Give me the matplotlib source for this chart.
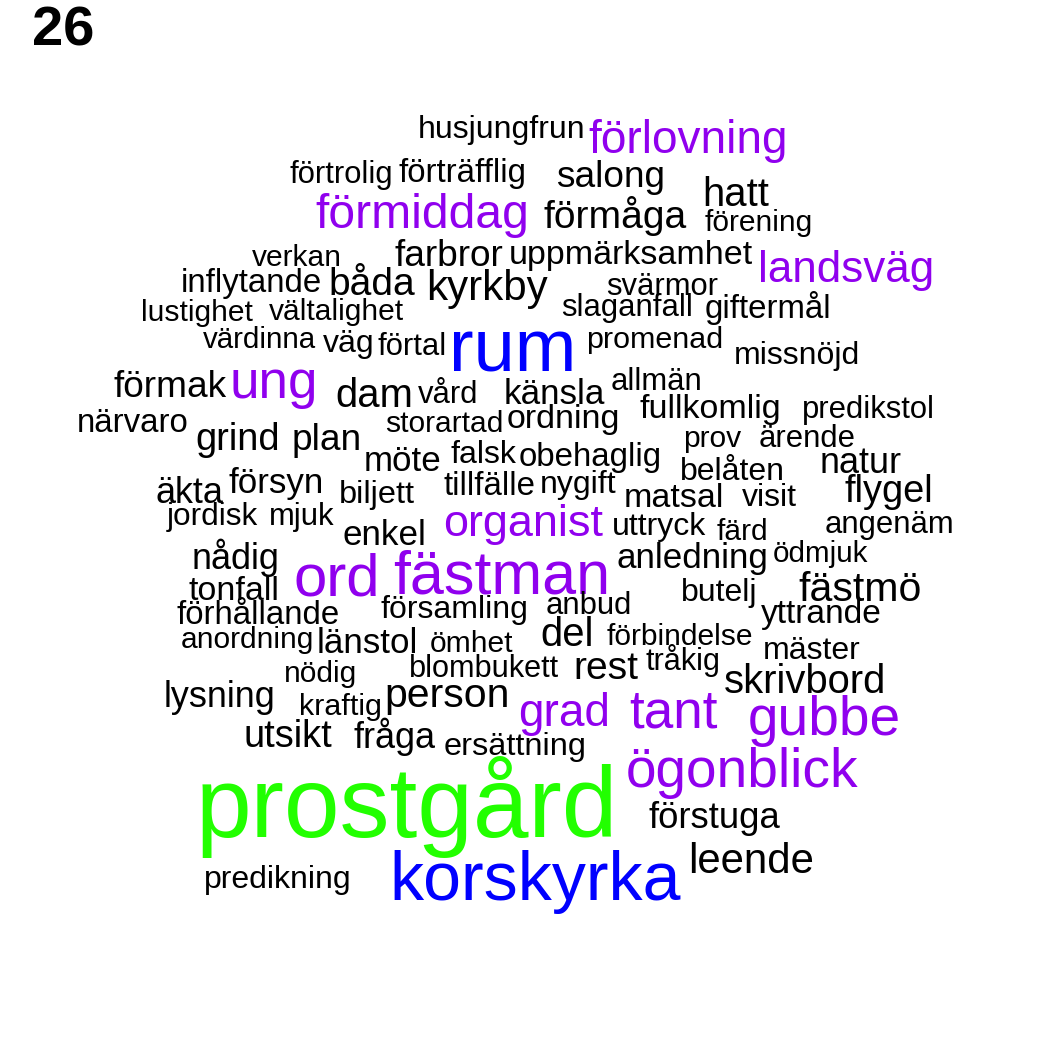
import matplotlib
matplotlib.use("Agg")
import matplotlib.pyplot as plt

plt.rcParams['font.family'] = ['Liberation Sans', 'DejaVu Sans']

W = H = 1050
DPI = 100

# word, size (em in px), colour group
words = ['husjungfrun', 'förlovning', 'förtrolig', 'förträfflig', 'salong', 'hatt',
         'förmiddag', 'förmåga', 'förening', 'verkan', 'farbror', 'uppmärksamhet',
         'landsväg', 'inflytande', 'båda', 'kyrkby', 'svärmor', 'lustighet',
         'vältalighet', 'slaganfall', 'giftermål', 'värdinna', 'väg', 'förtal',
         'rum', 'promenad', 'missnöjd', 'förmak', 'ung', 'dam', 'vård', 'känsla',
         'allmän', 'fullkomlig', 'predikstol', 'närvaro', 'storartad', 'ordning',
         'grind', 'plan', 'prov', 'ärende', 'möte', 'falsk', 'obehaglig', 'natur',
         'belåten', 'äkta', 'försyn', 'biljett', 'tillfälle', 'nygift', 'matsal',
         'visit', 'flygel', 'jordisk', 'mjuk', 'enkel', 'organist', 'uttryck',
         'färd', 'angenäm', 'nådig', 'ord', 'fästman', 'anledning', 'ödmjuk',
         'tonfall', 'butelj', 'fästmö', 'förhållande', 'församling', 'anbud',
         'yttrande', 'anordning', 'länstol', 'ömhet', 'del', 'förbindelse',
         'mäster', 'nödig', 'blombukett', 'rest', 'tråkig', 'skrivbord', 'lysning',
         'kraftig', 'person', 'grad', 'tant', 'gubbe', 'utsikt', 'fråga',
         'ersättning', 'ögonblick', 'prostgård', 'förstuga', 'leende',
         'predikning', 'korskyrka']

sizes = [32, 46, 31, 33, 37, 40,
         48, 39, 30, 30, 37, 34,
         44, 33, 39, 42, 31, 30,
         30, 31, 33, 29.5, 32, 31,
         74, 30.5, 32, 37, 53, 40, 31, 35,
         31, 34, 31, 33, 30, 34,
         38, 37, 30, 31, 35, 32, 33, 36,
         32, 36, 35, 32.5, 33, 32, 34,
         32, 38, 31.5, 31, 35, 45, 32,
         30, 31, 36, 60, 61, 35, 29.5,
         34, 32, 41, 33, 32, 31,
         33.5, 30, 35, 30, 40, 30,
         32, 30, 30.7, 39, 30.7, 40, 36,
         30.5, 41, 46, 53, 55, 38, 36,
         32.5, 55, 100, 36.5, 42,
         32, 68]

groups = ['k', 'p', 'k', 'k', 'k', 'k',
          'p', 'k', 'k', 'k', 'k', 'k',
          'p', 'k', 'k', 'k', 'k', 'k',
          'k', 'k', 'k', 'k', 'k', 'k',
          'b', 'k', 'k', 'k', 'p', 'k', 'k', 'k',
          'k', 'k', 'k', 'k', 'k', 'k',
          'k', 'k', 'k', 'k', 'k', 'k', 'k', 'k',
          'k', 'k', 'k', 'k', 'k', 'k', 'k',
          'k', 'k', 'k', 'k', 'k', 'p', 'k',
          'k', 'k', 'k', 'p', 'p', 'k', 'k',
          'k', 'k', 'k', 'k', 'k', 'k',
          'k', 'k', 'k', 'k', 'k', 'k',
          'k', 'k', 'k', 'k', 'k', 'k', 'k',
          'k', 'k', 'p', 'p', 'p', 'k', 'k',
          'k', 'p', 'g', 'k', 'k',
          'k', 'b']

# layout: left edge and baseline in pixels from top-left
x_left = [419, 590, 291, 400, 558, 704,
          318, 545, 706, 253, 396, 510,
          760, 182, 330, 428, 608, 142,
          270, 563, 706, 204, 324, 379,
          452, 587, 735, 115, 232, 337, 419, 505,
          612, 641, 803, 78, 386, 508,
          197, 293, 684, 760, 365, 452, 520, 821,
          681, 157, 230, 340, 445, 541, 625,
          743, 846, 168, 270, 344, 445, 613,
          718, 826, 193, 296, 396, 618, 774,
          190, 682, 800, 178, 382, 547,
          762, 182, 318, 431, 542, 608,
          764, 285, 410, 575, 647, 726, 165,
          300, 386, 520, 632, 750, 245, 355,
          445, 628, 200, 650, 690,
          205, 392]

y_base = [138, 153, 183, 182, 187, 206,
          228, 228, 231, 266, 266, 264,
          282, 292, 295, 300, 295, 321,
          320, 316, 318, 348, 352, 355,
          372, 348, 364, 397, 398, 407, 403, 404,
          390, 418, 418, 432, 432, 428,
          450, 450, 447, 447, 471, 463, 466, 473,
          480, 503, 493, 503, 495, 493, 507,
          506, 502, 525, 525, 545, 536, 535,
          540, 533, 569, 595, 593, 568, 562,
          600, 601, 601, 624, 618, 614,
          623, 648, 653, 652, 646, 645,
          659, 682, 677, 679, 670, 693, 707,
          715, 707, 726, 728, 735, 747, 748,
          755, 787, 837, 828, 873,
          888, 900]

palette = {'k': '#000000', 'p': '#9000EE', 'b': '#0000FF', 'g': '#22FF00'}

fig = plt.figure(figsize=(W / DPI, H / DPI), dpi=DPI)
fig.patch.set_facecolor('white')

for w, s, g, x, y in zip(words, sizes, groups, x_left, y_base):
    # small shift for the glyph side bearing
    fig.text((x - 0.045 * s) / W, 1 - y / H, w, fontsize=s * 72 / DPI,
             color=palette[g], ha='left', va='baseline')

fig.text(32 / W, 1 - 45 / H, '26', fontsize=56 * 72 / DPI, fontweight='bold',
         ha='left', va='baseline')

fig.savefig('out.png', dpi=DPI, facecolor='white')
